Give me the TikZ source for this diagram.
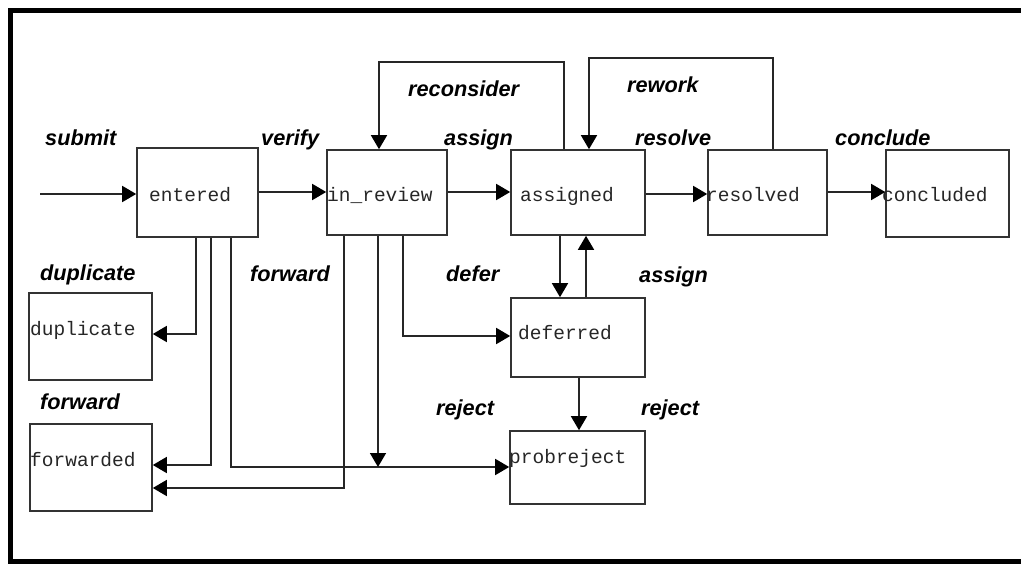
\documentclass[tikz,border=0pt]{standalone}
\usepackage{fontspec}
\setmainfont{Liberation Sans}
\newfontfamily\monof{Liberation Mono}
\usetikzlibrary{arrows.meta}
\tikzset{
  statebox/.style={draw=black!80, line width=1.6pt, rectangle, inner sep=0pt},
  statetext/.style={anchor=base west, inner sep=0pt, text=black!85, font=\monof\fontsize{19.5}{22}\selectfont},
  evlabel/.style={anchor=base west, inner sep=0pt, font=\fontsize{21.7}{24}\selectfont\bfseries\itshape},
  arr/.style={draw=black!85, line width=1.6pt, -{Triangle[length=14pt,width=16pt,fill=black,color=black]}},
}
\begin{document}
\begin{tikzpicture}[x=1pt,y=-1pt]
\useasboundingbox (0,0) rectangle (1021,564);
\clip (0,0) rectangle (1021,564);
\draw[line width=5pt] (10.5,10.5) rectangle (1040,561);

% state boxes
\node[statebox, minimum width=121pt, minimum height=89pt] (entered) at (197.5,192.5) {};
\node[statebox, minimum width=120pt, minimum height=85pt] (in_review) at (387,192.5) {};
\node[statebox, minimum width=134pt, minimum height=85pt] (assigned) at (578,192.5) {};
\node[statebox, minimum width=119pt, minimum height=85pt] (resolved) at (767.5,192.5) {};
\node[statebox, minimum width=123pt, minimum height=87pt] (concluded) at (947.5,193.5) {};
\node[statebox, minimum width=123pt, minimum height=87pt] (duplicate) at (90.5,336.5) {};
\node[statebox, minimum width=122pt, minimum height=87pt] (forwarded) at (91,467.5) {};
\node[statebox, minimum width=134pt, minimum height=79pt] (deferred) at (578,337.5) {};
\node[statebox, minimum width=135pt, minimum height=73pt] (probreject) at (577.5,467.5) {};

% state texts
\node[statetext] (t_entered) at (149,202) {entered};
\node[statetext] (t_in_review) at (327,202) {in\_review};
\node[statetext] (t_assigned) at (520,202) {assigned};
\node[statetext] (t_resolved) at (706,202) {resolved};
\node[statetext] (t_concluded) at (882,202) {concluded};
\node[statetext] (t_duplicate) at (30,335) {duplicate};
\node[statetext] (t_forwarded) at (30,466) {forwarded};
\node[statetext] (t_deferred) at (518,340) {deferred};
\node[statetext] (t_probreject) at (509,463) {probreject};

% event labels
\node[evlabel] (l_submit) at (45,146) {submit};
\node[evlabel] (l_verify) at (261,146) {verify};
\node[evlabel] (l_assign1) at (444,146) {assign};
\node[evlabel] (l_reconsider) at (408,97) {reconsider};
\node[evlabel] (l_rework) at (627,93) {rework};
\node[evlabel] (l_resolve) at (635,146) {resolve};
\node[evlabel] (l_conclude) at (835,146) {conclude};
\node[evlabel] (l_duplicate) at (40,281) {duplicate};
\node[evlabel] (l_forward1) at (40,409) {forward};
\node[evlabel] (l_forward2) at (250,282) {forward};
\node[evlabel] (l_defer) at (446,282) {defer};
\node[evlabel] (l_assign2) at (639,283) {assign};
\node[evlabel] (l_reject1) at (436,415) {reject};
\node[evlabel] (l_reject2) at (641,415) {reject};

% connectors
\coordinate (start) at (40,194);
\draw[arr] (start) -- (entered.west |- start);
\draw[arr] (entered.east |- 0,192) -- (in_review.west |- 0,192);
\draw[arr] (in_review.east |- 0,192) -- (assigned.west |- 0,192);
\draw[arr] (assigned.east |- 0,194) -- (resolved.west |- 0,194);
\draw[arr] (resolved.east |- 0,192) -- (concluded.west |- 0,192);
\draw[arr] (assigned.north -| 564,0) |- (379,62) -- (in_review.north -| 379,0);
\draw[arr] (resolved.north -| 773,0) |- (589,58) -- (assigned.north -| 589,0);
\draw[arr] (entered.south -| 196,0) |- (duplicate.east |- 0,334);
\draw[arr] (entered.south -| 211,0) |- (forwarded.east |- 0,465);
\draw[arr] (entered.south -| 231,0) |- (probreject.west |- 0,467);
\draw[arr] (in_review.south -| 344,0) |- (forwarded.east |- 0,488);
\coordinate (rj) at (378,467);
\draw[arr] (in_review.south -| rj) -- (rj);
\draw[arr] (in_review.south -| 403,0) |- (deferred.west |- 0,336);
\draw[arr] (assigned.south -| 560,0) -- (deferred.north -| 560,0);
\draw[arr] (deferred.north -| 586,0) -- (assigned.south -| 586,0);
\draw[arr] (deferred.south -| 579,0) -- (probreject.north -| 579,0);
\end{tikzpicture}
\end{document}
